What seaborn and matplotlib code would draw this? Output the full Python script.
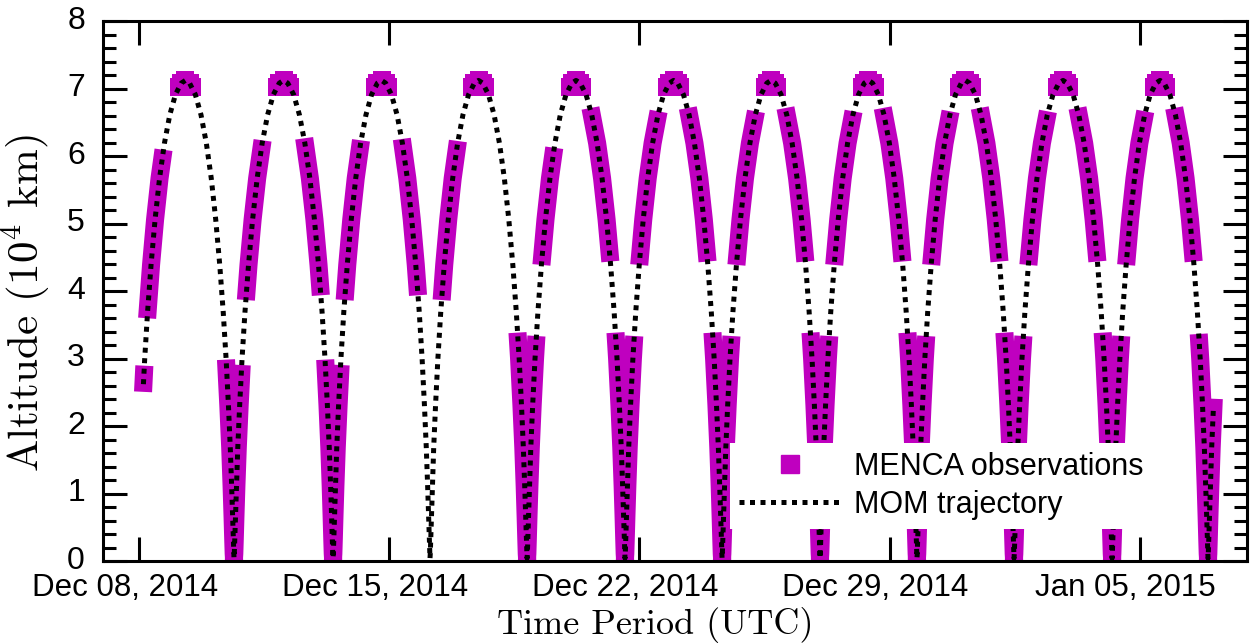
#!/usr/bin/env python3
# -*- coding: utf-8 -*-

## MOM altitude vs time with MENCA observation windows
import numpy as np
import pandas as pd
import seaborn as sns
import matplotlib.pyplot as plt
import matplotlib.dates as mdates
import matplotlib.transforms as mtransforms
from matplotlib.lines import Line2D
from matplotlib.ticker import MultipleLocator, FixedLocator

## 1. Data

# periapsis passes (UTC)
periapsis_times = ['2014-12-07 22:40', '2014-12-10 15:55', '2014-12-13 10:25',
                   '2014-12-16 03:30', '2014-12-18 20:40', '2014-12-21 14:25',
                   '2014-12-24 07:35', '2014-12-27 01:20', '2014-12-29 18:25',
                   '2015-01-01 11:35', '2015-01-04 05:25', '2015-01-06 21:50']

# altitude profile of one half orbit (hours after periapsis, 10^4 km)
profile_hours = [0, 0.2, 0.5, 0.95, 1.6, 2.5, 3.75, 5.3, 7.25, 9.6,
                 12.3, 15.3, 18.6, 22.2, 26.0, 29.9, 32.7]
profile_alt = [0.04, 0.11, 0.32, 0.66, 1.12, 1.68, 2.31, 2.99, 3.69, 4.39,
               5.06, 5.67, 6.19, 6.61, 6.91, 7.08, 7.12]

# trajectory starts / ends on an ascending branch at these altitudes
traj_start_alt = 2.62
traj_end_alt = 2.30

# MENCA windows next to each periapsis (altitude range, nan = none)
desc_peri_lo = [np.nan, 0, 0, np.nan, 0, 0, 0, 0, 0, 0, 0, 0]
desc_peri_hi = [np.nan, 2.85, 2.85, np.nan, 3.25, 3.25, 3.25, 3.25, 3.25, 3.25, 3.25, 3.23]
asc_peri_lo = [2.64, 0, 0, np.nan, 0, 0, 0, 0, 0, 0, 0, 0]
asc_peri_hi = [2.76, 2.77, 2.77, np.nan, 3.2, 3.2, 3.2, 3.2, 3.2, 3.2, 3.2, 2.27]

# MENCA windows on the middle of each orbit (11 orbits)
mid_asc_lo = [3.73, 4.0, 4.0, 4.0, 4.52, 4.52, 4.52, 4.52, 4.52, 4.52, 4.52]
mid_asc_hi = [5.96, 6.1, 6.1, 6.09, 5.99, 6.53, 6.53, 6.53, 6.53, 6.53, 6.53]
mid_desc_lo = [np.nan, 4.07, 4.07, np.nan, 4.57, 4.57, 4.57, 4.57, 4.57, 4.57, 4.57]
mid_desc_hi = [np.nan, 6.13, 6.12, np.nan, 6.58, 6.58, 6.58, 6.58, 6.58, 6.58, 6.58]
apo_lo = [7.02] * 11

tick_dates = ['2014-12-08', '2014-12-15', '2014-12-22', '2014-12-29', '2015-01-05']
x_start, x_end = '2014-12-07', '2015-01-08'

MAGENTA = '#bf00bf'

## 2. Helpers

peri = pd.to_datetime(periapsis_times)
prof_h = np.array(profile_hours)
prof_a = np.array(profile_alt)
halves = [(peri[k + 1] - peri[k]).total_seconds() / 7200.0 for k in range(len(peri) - 1)]


def branch(p, half, lo, hi, sign):
    """Points of one branch between altitudes lo and hi (sign +1 after periapsis, -1 before)."""
    scale = half / prof_h[-1]
    t_lo, t_hi = np.interp([lo, hi], prof_a, prof_h)
    inner = prof_h[(prof_h > t_lo) & (prof_h < t_hi)]
    h = np.concatenate([[t_lo], inner, [t_hi]])
    alt = np.interp(h, prof_h, prof_a)
    times = p + sign * pd.to_timedelta(h * scale, unit='h')
    if sign < 0:
        return np.asarray(times[::-1]), alt[::-1]
    return np.asarray(times), alt


# trajectory
t_all, a_all = [], []
for k in range(len(peri) - 1):
    lo = traj_start_alt if k == 0 else 0
    t, a = branch(peri[k], halves[k], lo, prof_a[-1], +1)
    t_all.append(t); a_all.append(a)
    t, a = branch(peri[k + 1], halves[k], 0, prof_a[-1], -1)
    t_all.append(t); a_all.append(a)
t, a = branch(peri[-1], halves[-1], 0, traj_end_alt, +1)
t_all.append(t); a_all.append(a)
traj = pd.DataFrame({'time': np.concatenate(t_all), 'alt': np.concatenate(a_all)})

# observation bands (drawn as thick lines) and apoapsis clusters (drawn as squares)
bands = []
apex = []


def add_band(times, alt):
    bands.append(pd.DataFrame({'time': times, 'alt': alt, 'seg': len(bands)}))


for k in range(len(peri)):
    half = halves[min(k, len(halves) - 1)]
    if not np.isnan(desc_peri_lo[k]):
        add_band(*branch(peri[k], half, desc_peri_lo[k], desc_peri_hi[k], -1))
    if not np.isnan(asc_peri_lo[k]):
        add_band(*branch(peri[k], half, asc_peri_lo[k], asc_peri_hi[k], +1))

for k in range(len(halves)):
    if not np.isnan(mid_asc_lo[k]):
        add_band(*branch(peri[k], halves[k], mid_asc_lo[k], mid_asc_hi[k], +1))
    if not np.isnan(mid_desc_lo[k]):
        add_band(*branch(peri[k + 1], halves[k], mid_desc_lo[k], mid_desc_hi[k], -1))
    for p, sign in ((peri[k], +1), (peri[k + 1], -1)):
        t, a = branch(p, halves[k], apo_lo[k], prof_a[-1], sign)
        apex.append(pd.DataFrame({'time': t, 'alt': a}))

bands_df = pd.concat(bands, ignore_index=True)
apex_df = pd.concat(apex, ignore_index=True)

## 3. Plot

sns.set_style('ticks')
plt.rcParams['font.family'] = ['Liberation Sans', 'DejaVu Sans']
plt.rcParams['mathtext.fontset'] = 'cm'
for key in ('text.color', 'axes.labelcolor', 'xtick.color', 'ytick.color', 'axes.edgecolor'):
    plt.rcParams[key] = 'black'

fig = plt.figure(figsize=(12.52, 6.43), dpi=100)
ax = fig.add_axes([0.0823, 0.1275, 0.9137, 0.8398])

sns.lineplot(data=bands_df, x='time', y='alt', units='seg', estimator=None, sort=False,
             color=MAGENTA, lw=13, solid_capstyle='projecting', legend=False, ax=ax, zorder=2)
sns.scatterplot(data=apex_df, x='time', y='alt', marker='s', s=169, color=MAGENTA,
                linewidth=0, legend=False, ax=ax, zorder=2)
sns.lineplot(data=traj, x='time', y='alt', estimator=None, sort=False,
             color='black', lw=3.6, ax=ax, zorder=3)
ax.lines[-1].set_linestyle((0, (1, 1.1)))

ax.set_xlim(pd.Timestamp(x_start), pd.Timestamp(x_end))
ax.set_ylim(0, 8)

ax.xaxis.set_major_locator(FixedLocator(mdates.date2num(pd.to_datetime(tick_dates))))
ax.xaxis.set_major_formatter(mdates.DateFormatter('%b %d, %Y'))
ax.yaxis.set_major_locator(MultipleLocator(1))
ax.yaxis.set_minor_locator(MultipleLocator(0.2))

ax.tick_params(which='both', direction='in', top=True, right=True, width=2.2, colors='black')
ax.tick_params(which='major', length=17)
ax.tick_params(which='minor', length=9.5)
ax.tick_params(axis='x', pad=8.5, labelsize=22.5)
ax.tick_params(axis='y', pad=13, labelsize=23)
for s in ax.spines.values():
    s.set_linewidth(2.2)

# x tick labels sit a little left of their ticks, y tick labels a little above
shift_x = mtransforms.ScaledTranslation(-14 / 100, 0, fig.dpi_scale_trans)
for tick in ax.xaxis.get_major_ticks():
    tick.label1.set_transform(tick.label1.get_transform() + shift_x)
shift_y = mtransforms.ScaledTranslation(0, 4 / 100, fig.dpi_scale_trans)
for tick in ax.yaxis.get_major_ticks():
    tick.label1.set_transform(tick.label1.get_transform() + shift_y)

ax.set_xlabel('Time Period (UTC)', fontsize=26, fontfamily='cmr10')
ax.set_ylabel('Altitude (10$^4$ km)', fontsize=31, fontfamily='cmr10')
ax.xaxis.set_label_coords(0.4825, -0.0852)
ax.yaxis.set_label_coords(-0.0437, 0.478)

h1 = Line2D([], [], marker='s', ls='none', color=MAGENTA, markersize=13)
h2 = Line2D([], [], color='black', lw=3.6, ls=(0, (1, 1.1)))
leg = ax.legend([h1, h2], ['MENCA observations', 'MOM trajectory'], loc='upper left',
                bbox_to_anchor=(0.548, 0.219), frameon=True, fancybox=False, framealpha=1,
                facecolor='white', edgecolor='white', borderaxespad=0, borderpad=0.3,
                handlelength=3.3, handletextpad=0.45, labelspacing=0.27, fontsize=22)
leg.get_frame().set_linewidth(0)

fig.savefig('out.png', dpi=100)
